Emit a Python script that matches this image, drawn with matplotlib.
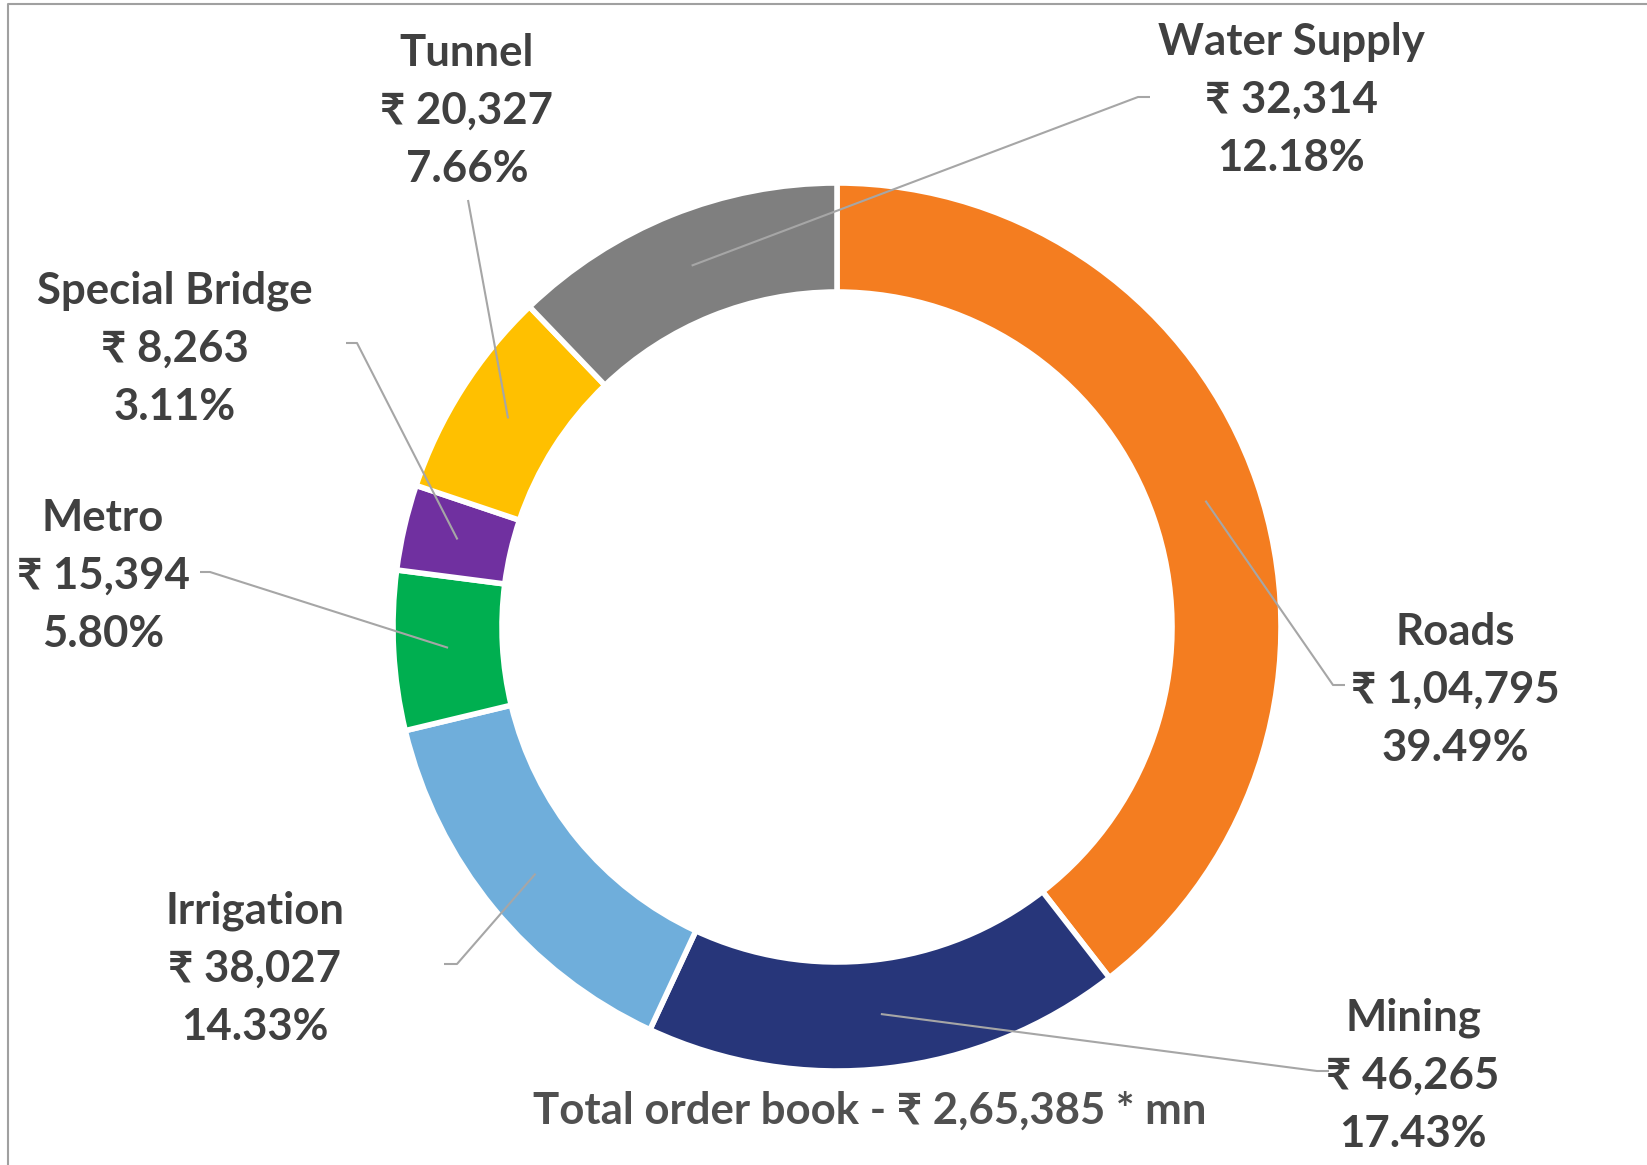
import matplotlib
matplotlib.use('Agg')
import matplotlib.pyplot as plt
import numpy as np

# order book by segment (INR mn), clockwise from 12 o'clock
categories = ['Roads', 'Mining', 'Irrigation', 'Metro', 'Special Bridge', 'Tunnel', 'Water Supply']
values = [104795, 46265, 38027, 15394, 8263, 20327, 32314]
colors = ['#F47D20', '#27367A', '#6FAEDB', '#00AF50', '#7030A0', '#FFC000', '#7F7F7F']

W, H = 1647, 1165
cx, cy = 837, 627          # donut centre (px, y from top)
r_out, r_in = 444, 335

# label block centre (x, y of middle line) and leader elbow / end points, px from top-left
label_xy = {
    'Roads': (1455, 690), 'Mining': (1413, 1076), 'Irrigation': (255, 969),
    'Metro': (103, 576), 'Special Bridge': (175, 349), 'Tunnel': (467, 111),
    'Water Supply': (1291, 100),
}
leader = {
    'Roads': ((1333, 685), (1345, 685)), 'Mining': ((1317, 1071), (1329, 1071)),
    'Irrigation': ((457, 964), (444, 964)), 'Metro': ((210, 572), (200, 572)),
    'Special Bridge': ((357, 343), (346, 343)), 'Tunnel': ((468, 200), (468, 200)),
    'Water Supply': ((1138, 97), (1150, 97)),
}

FONT = ['Lato', 'Noto Sans', 'DejaVu Sans']
TXT = '#404040'


def inr(v):
    s = str(v)
    head, tail = s[:-3], s[-3:]
    groups = []
    while len(head) > 2:
        groups.insert(0, head[-2:])
        head = head[:-2]
    if head:
        groups.insert(0, head)
    return ','.join(groups + [tail])


fig = plt.figure(figsize=(W / 100, H / 100), dpi=100)
ax = fig.add_axes([0, 0, 1, 1])

wedges, _ = ax.pie(values, colors=colors, startangle=90, counterclock=False,
                   center=(cx, H - cy), radius=r_out,
                   wedgeprops=dict(width=r_out - r_in, edgecolor='white', linewidth=4))
ax.set_xlim(0, W)
ax.set_ylim(0, H)
ax.set_aspect('auto')
ax.axis('off')

total = sum(values)
r_mid = (r_out + r_in) / 2
start = 90.0
for name, v in zip(categories, values):
    sweep = v / total * 360
    mid = np.deg2rad(start - sweep / 2)
    start -= sweep
    ax_x = cx + r_mid * np.cos(mid)
    ax_y = (H - cy) + r_mid * np.sin(mid)
    (ex, ey), (tx, ty) = leader[name]
    ax.plot([ax_x, ex, tx], [ax_y, H - ey, H - ty], color='#A6A6A6', lw=1.5,
            solid_capstyle='butt', zorder=1)

    lx, ly = label_xy[name]
    lines = [name, f'\u20b9 {inr(v)}', f'{v / total * 100:.2f}%']
    for k, line in enumerate(lines):
        ax.text(lx, H - (ly + (k - 1) * 58), line, ha='center', va='center',
                fontsize=31.5, fontweight='bold', color=TXT, family=FONT)

ax.text(870, H - 1111, f'Total order book - \u20b9 {inr(total)} * mn', ha='center',
        va='center', fontsize=31.5, fontweight='bold', color='#505050', family=FONT)

# thin chart-area frame (only top and left edges visible in the crop)
ax.plot([8, 8, W + 5], [-5, H - 4, H - 4], color='#A0A0A0', lw=1.5, clip_on=False)

plt.savefig('out.png', dpi=100)
